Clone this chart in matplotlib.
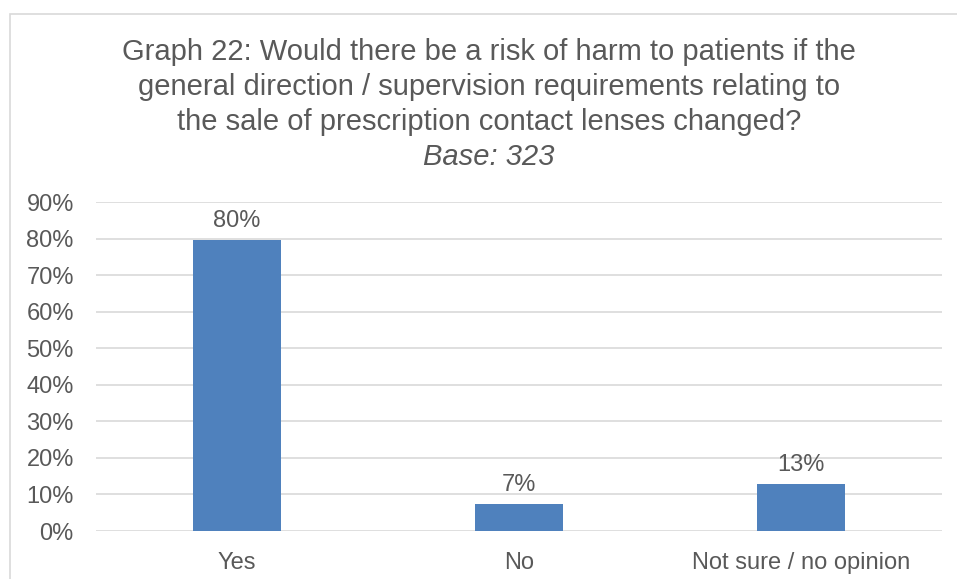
import matplotlib
matplotlib.use("Agg")
import matplotlib.pyplot as plt
from matplotlib.patches import Rectangle
from matplotlib.ticker import PercentFormatter

plt.rcParams['font.family'] = ['Liberation Sans', 'DejaVu Sans']

categories = ["Yes", "No", "Not sure / no opinion"]
shares = [0.796, 0.074, 0.129]
labels = ["80%", "7%", "13%"]
yticks = [0.0, 0.1, 0.2, 0.3, 0.4, 0.5, 0.6, 0.7, 0.8, 0.9]

grey = "#595959"
W, H = 957, 579

fig = plt.figure(figsize=(W / 100, H / 100), dpi=100)

# chart frame (cropped at right and bottom in the source)
fig.patches.append(Rectangle((10 / W, -0.1), 1.1, 1.1 - 14 / H,
                             transform=fig.transFigure, fill=False,
                             edgecolor="#D9D9D9", linewidth=1.2))

ax = fig.add_axes([96 / W, 1 - 531 / H, (942 - 96) / W, (531 - 202) / H])
x = range(len(categories))
ax.bar(x, shares, width=0.31, color="#4F81BD", zorder=3)
for xi, v, lab in zip(x, shares, labels):
    ax.annotate(lab, (xi, v), xytext=(0, 6), textcoords="offset points",
                ha="center", va="bottom", fontsize=17, color=grey)

ax.set_xlim(-0.5, 2.5)
ax.set_ylim(0, 0.9)
ax.set_yticks(yticks)
ax.yaxis.set_major_formatter(PercentFormatter(1.0, decimals=0))
ax.set_xticks(list(x))
ax.set_xticklabels(categories)
ax.tick_params(axis="both", length=0, labelsize=17, labelcolor=grey)
ax.tick_params(axis="y", pad=16)
ax.tick_params(axis="x", pad=15)
ax.grid(axis="y", color="#D9D9D9", linewidth=1.2, zorder=0)
for s in ax.spines.values():
    s.set_visible(False)

fig.text(489 / W, 1 - 87 / H,
         "Graph 22: Would there be a risk of harm to patients if the\n"
         "general direction / supervision requirements relating to\n"
         "the sale of prescription contact lenses changed?",
         ha="center", va="center", fontsize=21, color=grey, linespacing=1.33)
fig.text(489 / W, 1 - 157 / H, "Base: 323", ha="center", va="center",
         fontsize=21, color=grey, style="italic")

fig.savefig("out.png", dpi=100)
